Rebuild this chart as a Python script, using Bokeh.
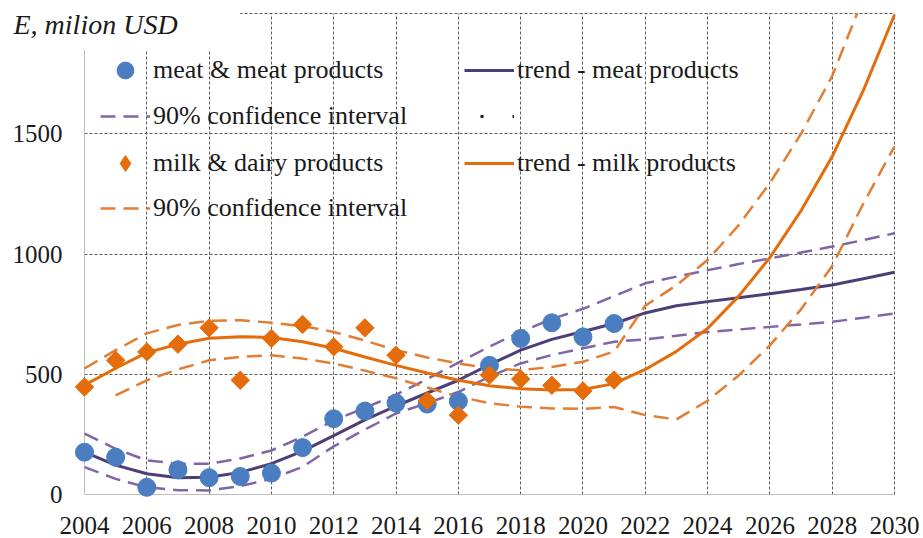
from bokeh.plotting import figure
from bokeh.models import (Legend, LegendItem, Label, LabelSet, FixedTicker, Range1d,
                          BoxAnnotation, Grid, ColumnDataSource)
from bokeh.embed import file_html
from bokeh.resources import INLINE

# Observed export values, million USD
obs_years = list(range(2004, 2022))
meat_obs = [176, 155, 30, 103, 70, 75, 89, 195, 315, 347, 380, 376, 388, 537, 649, 714, 655, 711]
milk_obs = [447, 558, 593, 625, 693, 475, 649, 707, 614, 693, 579, 390, 330, 497, 480, 454, 431, 476]

# Fitted trends and 90% confidence bands, 2004-2030
fit_years = list(range(2004, 2031))
meat_trend = [176, 122, 86, 70, 72, 92, 128, 180, 245, 310, 368, 422, 475, 540, 600, 645, 678, 711,
              755, 785, 802, 818, 835, 852, 871, 897, 924]
meat_upper = [253, 190, 142, 128, 128, 150, 183, 240, 308, 360, 415, 480, 548, 615, 676, 730, 772, 825,
              878, 906, 933, 958, 982, 1006, 1031, 1058, 1086]
meat_lower = [114, 65, 30, 18, 17, 35, 65, 115, 200, 270, 337, 380, 426, 490, 545, 580, 608, 635,
              645, 660, 676, 686, 697, 707, 718, 735, 753]
milk_trend = [455, 525, 590, 625, 650, 656, 653, 635, 608, 572, 537, 505, 475, 452, 440, 435, 437, 461,
              520, 595, 690, 825, 985, 1180, 1405, 1680, 1995]
milk_upper = [524, 600, 670, 705, 722, 725, 714, 700, 676, 640, 600, 570, 545, 525, 517, 530, 552, 595,
              785, 870, 975, 1120, 1295, 1500, 1740, 2065, 2400]
milk_lower_years = list(range(2005, 2031))
milk_lower = [412, 475, 520, 558, 572, 579, 565, 545, 515, 483, 445, 407, 380, 365, 358, 356, 364,
              330, 312, 390, 495, 620, 770, 950, 1210, 1447]

x_ticks = list(range(2004, 2031, 2))
x_labels = [str(v) for v in x_ticks]
y_ticks = [0, 500, 1000, 1500]
y_labels = [str(v) for v in y_ticks]
y_grid_ticks = [500, 1000, 1500, 2000]

BLUE = "#4A7EC0"
ORANGE = "#E46C0A"
ORANGE_CI = "#E27D33"
PURPLE = "#4D3E78"
PURPLE_CI = "#8066A6"
AXIS_GREY = "#BFBFBF"
TEXT = "#1a1a1a"
FONT = "Liberation Serif"
NAN = float("nan")

# Canvas geometry (pixels): the frame fills the whole canvas; the value area runs from
# PX_LEFT to PX_RIGHT and from the x axis (PX_BOTTOM) up to the top grid line (PX_TOP).
W, H = 923, 538
PX_LEFT, PX_RIGHT, PX_TOP, PX_BOTTOM = 84, 894, 13, 494
X0, X1 = x_ticks[0], x_ticks[-1]
Y1 = y_grid_ticks[-1]
px_per_x = (PX_RIGHT - PX_LEFT) / (X1 - X0)
px_per_y = (PX_BOTTOM - PX_TOP) / Y1
x_lo, x_hi = X0 - PX_LEFT / px_per_x, X1 + (W - PX_RIGHT) / px_per_x
y_lo, y_hi = -(H - PX_BOTTOM) / px_per_y, Y1 + PX_TOP / px_per_y

p = figure(width=W, height=H, output_backend="svg", toolbar_location=None,
           x_range=Range1d(x_lo, x_hi), y_range=Range1d(y_lo, y_hi),
           min_border=0)
p.outline_line_color = None
p.background_fill_color = "white"
p.border_fill_color = "white"
p.xaxis.visible = False
p.yaxis.visible = False

# Dashed grid, limited to the value area
p.xgrid.ticker = FixedTicker(ticks=x_ticks[1:])
p.xgrid.cross_bounds = (0, Y1)
p.ygrid.ticker = FixedTicker(ticks=y_grid_ticks)
p.ygrid.cross_bounds = (X0, X1)
for g in (p.xgrid[0], p.ygrid[0]):
    g.grid_line_color = "#5A5A5A"
    g.grid_line_dash = "3 2"
    g.grid_line_width = 1

# Axis lines
p.add_layout(Grid(dimension=0, ticker=FixedTicker(ticks=[X0]), cross_bounds=(0, 1850),
                  grid_line_color=AXIS_GREY, grid_line_width=1))
p.add_layout(Grid(dimension=1, ticker=FixedTicker(ticks=[0]), cross_bounds=(X0, X1),
                  grid_line_color=AXIS_GREY, grid_line_width=1))

# Blank corner behind the axis caption
p.add_layout(BoxAnnotation(left=x_lo, right=2009, bottom=1850, top=y_hi,
                           fill_color="white", fill_alpha=1, line_color=None))

# Meat: confidence band and trend
r_meat_up = p.line(fit_years, meat_upper, line_color=PURPLE_CI, line_width=2.5, line_dash="15 8")
p.line(fit_years, meat_lower, line_color=PURPLE_CI, line_width=2.5, line_dash="15 8")
r_meat_trend = p.line(fit_years, meat_trend, line_color=PURPLE, line_width=3)

# Milk: confidence band and trend
r_milk_up = p.line(fit_years, milk_upper, line_color=ORANGE_CI, line_width=2.5, line_dash="15 8")
p.line(milk_lower_years, milk_lower, line_color=ORANGE_CI, line_width=2.5, line_dash="15 8")
r_milk_trend = p.line(fit_years, milk_trend, line_color=ORANGE, line_width=3)

# Observations
r_meat_pts = p.scatter(obs_years, meat_obs, marker="circle", size=18,
                       fill_color=BLUE, line_color=BLUE)
p.scatter(obs_years, milk_obs, marker="square", size=13, angle=0.7854,
          fill_color=ORANGE, line_color=ORANGE)

# Legend-only keys (no data of their own)
r_milk_key = p.scatter([NAN], [NAN], marker="diamond", fill_color=ORANGE, line_color=ORANGE)
r_dots = p.line([NAN, NAN], [NAN, NAN], line_color="#222222", line_width=3,
                line_dash="3 29", line_dash_offset=16)

# Nothing is drawn above the top grid line
p.add_layout(BoxAnnotation(left=x_lo, right=x_hi, bottom=Y1 + 0.6 / px_per_y, top=y_hi,
                           fill_color="white", fill_alpha=1, line_color=None))

# Tick labels
p.add_layout(LabelSet(x=X0, y="y", text="text",
                      source=ColumnDataSource(dict(y=y_ticks, text=y_labels)),
                      x_offset=-22, text_align="right", text_baseline="middle",
                      text_font=FONT, text_font_size="25px", text_color=TEXT))
p.add_layout(LabelSet(x="x", y=0, text="text",
                      source=ColumnDataSource(dict(x=x_ticks, text=x_labels)),
                      y_offset=-31, text_align="center", text_baseline="middle",
                      text_font=FONT, text_font_size="25px", text_color=TEXT))


def key(label, renderer, glyph_x, center_y, h):
    """One legend row; glyph_x / center_y are canvas pixels, h the row height."""
    return Legend(items=[LegendItem(label=label, renderers=[renderer])],
                  location=(glyph_x, H - (center_y + h / 2)),
                  padding=0, margin=0, border_line_color=None, background_fill_alpha=0,
                  label_text_font=FONT, label_text_font_size="26px", label_text_color=TEXT,
                  glyph_width=50, glyph_height=h, label_height=h, label_standoff=3)


for leg in (
    key("meat & meat products", r_meat_pts, 100, 70, 42),
    key("90% confidence interval", r_meat_up, 100, 116, 30),
    key("milk & dairy products", r_milk_key, 100, 163, 40),
    key("90% confidence interval", r_milk_up, 100, 208, 30),
    key("trend - meat products", r_meat_trend, 464, 70, 30),
    key(" ", r_dots, 464, 116, 30),
    key("trend - milk products", r_milk_trend, 464, 163, 30),
):
    p.add_layout(leg)

# Axis caption
p.add_layout(Label(x=13, y=24, x_units="canvas", y_units="canvas", text="E, milion USD",
                   text_font=FONT, text_font_size="28px", text_font_style="italic",
                   text_color=TEXT, text_align="left", text_baseline="middle"))

open("out.html", "w").write(file_html(p, INLINE))
